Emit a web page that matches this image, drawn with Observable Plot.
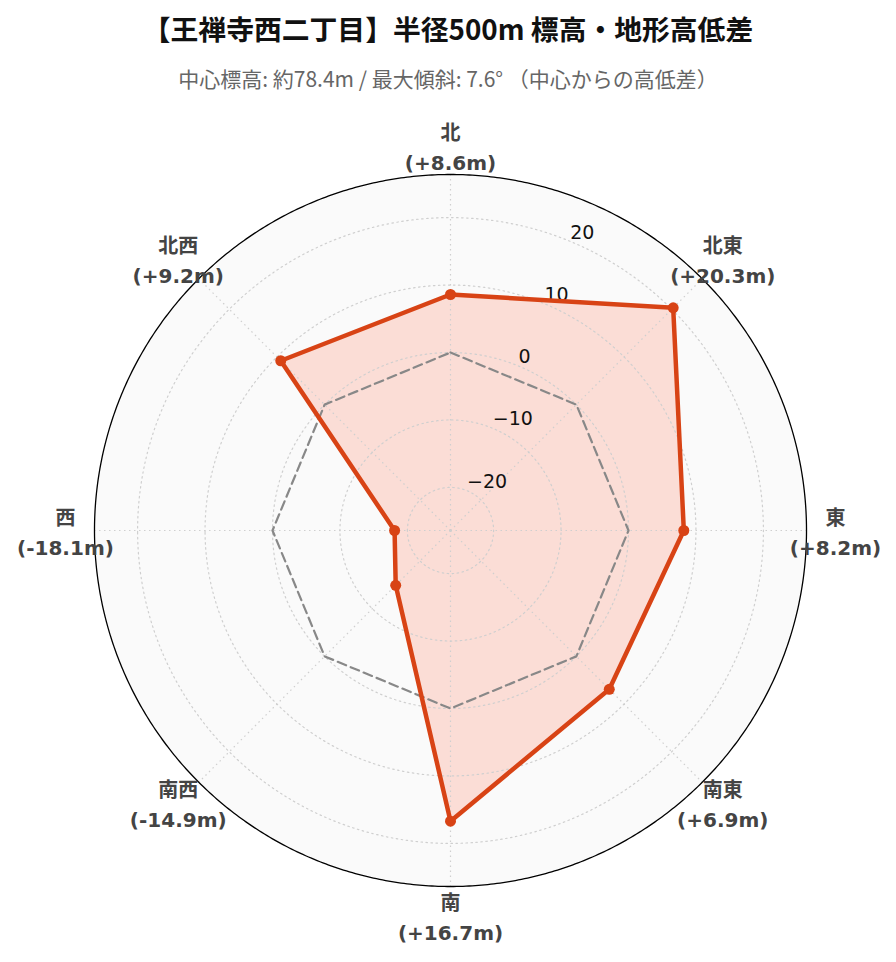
<!DOCTYPE html>
<html><head><meta charset="utf-8">
<script src="https://cdn.jsdelivr.net/npm/d3@7"></script>
<script src="https://cdn.jsdelivr.net/npm/@observablehq/plot@0.6"></script>
<style>
body{margin:0;background:#fff;width:896px;}
#title{height:56px;line-height:56px;text-align:center;font-family:"Noto Sans CJK JP";font-weight:700;font-size:27.8px;color:#111;white-space:nowrap;}
#subtitle{height:44px;line-height:44px;text-align:center;font-family:"Noto Sans CJK JP";font-size:21px;color:#666;white-space:nowrap;}
#chart svg{display:block;}
</style></head><body>
<div id="title">【王禅寺西二丁目】半径500m 標高・地形高低差</div>
<div id="subtitle">中心標高: 約78.4m / 最大傾斜: 7.6° （中心からの高低差）</div>
<div id="chart"></div>
<script>
// ---- data ----
const directions = ["北", "北東", "東", "南東", "南", "南西", "西", "北西"];
const elevationDiff = [8.6, 20.3, 8.2, 6.9, 16.7, -14.9, -18.1, 9.2];
const radialTicks = [-20, -10, 0, 10, 20];
const radialTickLabels = ["−20", "−10", "0", "10", "20"];
const referenceLevel = 0;
const radialRange = [-26.39, 26.39];

// ---- geometry of the polar frame (degrees on the sphere around the pole) ----
const OUTER = 0.5;                      // outer ring, degrees
const DOMAIN = OUTER * 420 / 356;       // fit circle
const LABEL = OUTER * 385 / 356;        // angular label ring
const rdeg = v => (v - radialRange[0]) / (radialRange[1] - radialRange[0]) * OUTER;
const lat = v => 90 - rdeg(v);
const circle = r => d3.geoCircle().center([0, 90]).radius(r).precision(0.5)();

const rows = directions.map((d, i) => ({dir: d, value: elevationDiff[i], lon: 180 - 45 * i}));
const closed = rows.concat([rows[0]]);
const ring = closed.map(r => [r.lon, lat(r.value)]);
const refRing = closed.map(r => [r.lon, lat(referenceLevel)]);

const red = "#d84315";
const fmt = v => `(${v > 0 ? "+" : ""}${v.toFixed(1)}m)`;

const chart = Plot.plot({
  width: 896,
  height: 862,
  marginLeft: 4,
  marginRight: 0,
  marginTop: 10,
  marginBottom: 12,
  projection: {
    type: "azimuthal-equidistant",
    rotate: [0, -90],
    domain: d3.geoCircle().center([0, 90]).radius(DOMAIN).precision(1)()
  },
  style: {background: "white", overflow: "visible"},
  marks: [
    Plot.geo([circle(OUTER)], {fill: "#fafafa", stroke: "none"}),
    Plot.geo([{type: "Polygon", coordinates: [ring]}], {fill: "#ff5733", fillOpacity: 0.18, stroke: "none"}),
    Plot.geo(radialTicks, {geometry: v => circle(rdeg(v)), fill: "none", stroke: "#cfcfcf", strokeWidth: 1.2, strokeDasharray: "1.5,3.5"}),
    Plot.link(rows, {x1: "lon", y1: 90, x2: "lon", y2: 90 - OUTER, stroke: "#cfcfcf", strokeWidth: 1.2, strokeDasharray: "1.5,3.5"}),
    Plot.geo([{type: "LineString", coordinates: refRing}], {fill: "none", stroke: "#888", strokeWidth: 2.2, strokeDasharray: "9,5"}),
    Plot.text(radialTicks, {x: 157.5, y: v => lat(v), text: (d, i) => radialTickLabels[i], textAnchor: "start", dy: -9, fontSize: 19, fill: "#111", fontFamily: "DejaVu Sans"}),
    Plot.line(closed, {x: "lon", y: d => lat(d.value), stroke: red, strokeWidth: 4.5, strokeLinejoin: "round"}),
    Plot.dot(rows, {x: "lon", y: d => lat(d.value), r: 5.5, fill: red, stroke: "none"}),
    Plot.geo([circle(OUTER)], {fill: "none", stroke: "#000", strokeWidth: 1.3}),
    Plot.text(rows, {x: "lon", y: 90 - LABEL, text: d => `${d.dir}\n${fmt(d.value)}`, lineHeight: 1.5, fontSize: 20, fontWeight: "bold", fill: "#444", fontFamily: "DejaVu Sans, Noto Sans CJK JP"})
  ]
});
document.getElementById("chart").appendChild(chart);
</script>
</body></html>
